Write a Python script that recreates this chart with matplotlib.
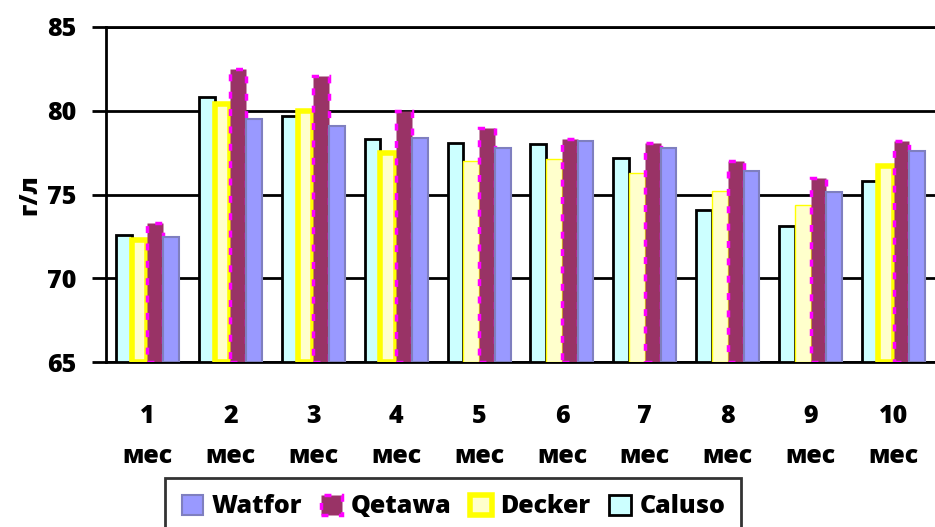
import matplotlib
matplotlib.use("Agg")
import matplotlib.pyplot as plt
import numpy as np

plt.rcParams['font.family'] = ['Open Sans', 'DejaVu Sans']
plt.rcParams['font.weight'] = 'bold'

categories = ["1\nмес", "2\nмес", "3\nмес", "4\nмес", "5\nмес",
              "6\nмес", "7\nмес", "8\nмес", "9\nмес", "10\nмес"]
caluso = [72.6, 80.8, 79.7, 78.3, 78.1, 78.0, 77.2, 74.1, 73.1, 75.8]
decker = [72.3, 80.4, 80.0, 77.5, 77.0, 77.1, 76.3, 75.2, 74.4, 76.7]
qetawa = [73.3, 82.5, 82.1, 80.0, 79.0, 78.3, 78.1, 77.0, 76.0, 78.2]
watfor = [72.45, 79.5, 79.1, 78.4, 77.75, 78.2, 77.75, 76.4, 75.15, 77.6]
y_ticks = [65, 70, 75, 80, 85]

FS = 18

fig = plt.figure(figsize=(9.35, 5.27), dpi=100)
ax = fig.add_axes([0.1134, 0.313, 0.8866, 0.6358])

x = np.arange(len(categories))
w = 0.19
base = 65

# Caluso
ax.bar(x - 1.5 * w, np.array(caluso) - base, w, bottom=base, color='#CCFFFF',
       edgecolor='black', linewidth=2, zorder=3, label='Caluso')
# Decker: thick yellow border on some months, thin on others
decker_lw = [4, 4, 4, 4, 1, 1, 1, 1, 1, 4]
dk = ax.bar(x - 0.5 * w, np.array(decker) - base, w, bottom=base, color='#FFFFCC',
            edgecolor='#FFFF00', linewidth=1, zorder=3, label='Decker')
for r, lw in zip(dk.patches, decker_lw):
    r.set_linewidth(lw)
# Qetawa
ax.bar(x + 0.5 * w, np.array(qetawa) - base, w, bottom=base, color='#993366',
       edgecolor='#FF00FF', linewidth=2.5, linestyle=(0, (2, 3)), zorder=3,
       label='Qetawa')
# Watfor
ax.bar(x + 1.5 * w, np.array(watfor) - base, w, bottom=base, color='#9999FF',
       edgecolor='#7F7FBF', linewidth=1.5, zorder=3, label='Watfor')

ax.set_xlim(-0.5, len(categories) - 0.5)
ax.set_ylim(65, 85)
ax.set_yticks(y_ticks)
ax.set_yticklabels([str(t) for t in y_ticks], fontsize=FS, fontweight='heavy')
ax.set_xticks(x)
ax.set_xticklabels(categories, fontsize=FS, fontweight='heavy', linespacing=1.8)
ax.tick_params(axis='x', length=0, pad=30)
ax.tick_params(axis='y', length=10, width=2, pad=11, direction='out')
ax.set_ylabel('г/л', fontsize=FS, fontweight='heavy', labelpad=4)

ax.yaxis.grid(True, color='black', linewidth=2, zorder=0)
ax.set_axisbelow(True)
for s in ['top', 'right']:
    ax.spines[s].set_visible(False)
ax.spines['left'].set_linewidth(2)
ax.spines['bottom'].set_linewidth(2)
ax.axhline(85, color='black', linewidth=2, zorder=1, clip_on=False)

handles, labels = ax.get_legend_handles_labels()
order = [3, 2, 1, 0]
leg = fig.legend([handles[i] for i in order], [labels[i] for i in order],
                 loc='upper center', bbox_to_anchor=(0.485, 0.093), ncol=4,
                 frameon=True, fancybox=False, edgecolor='black',
                 prop={'size': FS, 'weight': 'heavy'}, handlelength=0.85,
                 handleheight=0.85, handletextpad=0.35, columnspacing=0.75,
                 borderpad=0.65, borderaxespad=0)
leg.get_frame().set_linewidth(2)

fig.savefig('out.png', dpi=100)
